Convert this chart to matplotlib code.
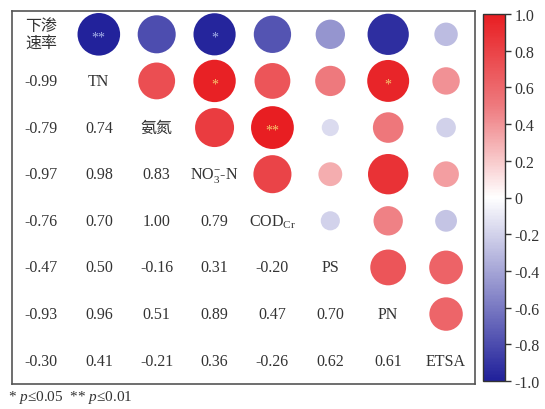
import numpy as np
import matplotlib
matplotlib.use("Agg")
import matplotlib.pyplot as plt
from matplotlib.colors import LinearSegmentedColormap, Normalize
from matplotlib.colorbar import ColorbarBase

plt.rcParams['font.family'] = ['Liberation Serif', 'Noto Sans CJK SC', 'DejaVu Sans']
plt.rcParams['mathtext.fontset'] = 'custom'
plt.rcParams['mathtext.rm'] = 'Liberation Serif'
plt.rcParams['mathtext.it'] = 'Liberation Serif:italic'

variables = ['下渗\n速率', 'TN', '氨氮', r'NO$_3^{-}$-N', r'COD$_{\mathrm{Cr}}$', 'PS', 'PN', 'ETSA']

# lower-triangle correlation coefficients, row by row
corr_rows = [
    [],
    [-0.99],
    [-0.79, 0.74],
    [-0.97, 0.98, 0.83],
    [-0.76, 0.70, 1.00, 0.79],
    [-0.47, 0.50, -0.16, 0.31, -0.20],
    [-0.93, 0.96, 0.51, 0.89, 0.47, 0.70],
    [-0.30, 0.41, -0.21, 0.36, -0.26, 0.62, 0.61],
]

# significance marks (row, col) in the upper triangle
sig_marks = {(0, 1): '**', (0, 3): '*', (1, 3): '*', (2, 4): '**', (1, 6): '*'}

n = len(variables)
R = np.eye(n)
for i, row in enumerate(corr_rows):
    for j, v in enumerate(row):
        R[i, j] = v
        R[j, i] = v

cmap = LinearSegmentedColormap.from_list(
    'corr', [(0.0, '#20209a'), (0.5, '#ffffff'), (0.75, '#ee7a7e'), (1.0, '#e81e22')])
norm = Normalize(-1, 1)

W, H = 545, 410
fig = plt.figure(figsize=(W / 100, H / 100), dpi=100)
ax = fig.add_axes([12 / W, 1 - 385 / H, 463 / W, 373 / H])
ax.set_xlim(-0.5, n - 0.5)
ax.set_ylim(n - 0.5, -0.5)
ax.set_xticks([])
ax.set_yticks([])
for s in ax.spines.values():
    s.set_color('#555555')
    s.set_linewidth(1.2)

# upper triangle: circles, area proportional to |r|
xs, ys, vals = [], [], []
for i in range(n):
    for j in range(i + 1, n):
        xs.append(j)
        ys.append(i)
        vals.append(R[i, j])
vals = np.array(vals)
ax.scatter(xs, ys, s=950 * np.abs(vals), c=vals, cmap=cmap, norm=norm,
           edgecolors='none', zorder=2)

for (i, j), mark in sig_marks.items():
    col = '#a8b4e8' if R[i, j] < 0 else '#f6c86e'
    ax.text(j, i + 0.06, mark, ha='center', va='center', fontsize=10,
            color=col, zorder=3)

# lower triangle: coefficient values
for i in range(n):
    for j in range(i):
        ax.text(j, i, f'{R[i, j]:.2f}', ha='center', va='center',
                fontsize=11.5, color='#333333')

# diagonal: variable names
for k, name in enumerate(variables):
    ax.text(k, k, name, ha='center', va='center', fontsize=11.5,
            color='#333333', linespacing=1.0)

# colour bar
cax = fig.add_axes([483 / W, 1 - 382 / H, 22 / W, 367 / H])
cb = ColorbarBase(cax, cmap=cmap, norm=norm, orientation='vertical')
ticks = np.round(np.arange(-1.0, 1.01, 0.2), 1)
cb.set_ticks(ticks)
cb.set_ticklabels(['0' if abs(t) < 1e-9 else f'{t:.1f}' for t in ticks])
cax.tick_params(labelsize=11.5, length=4, width=1, colors='#333333', pad=3)
cb.outline.set_edgecolor('#333333')
cb.outline.set_linewidth(1)

fig.text(8 / W, 1 - 398 / H, r'* $p$≤0.05  ** $p$≤0.01', ha='left', va='center',
         fontsize=11, color='#333333')

fig.savefig('out.png', dpi=100)
